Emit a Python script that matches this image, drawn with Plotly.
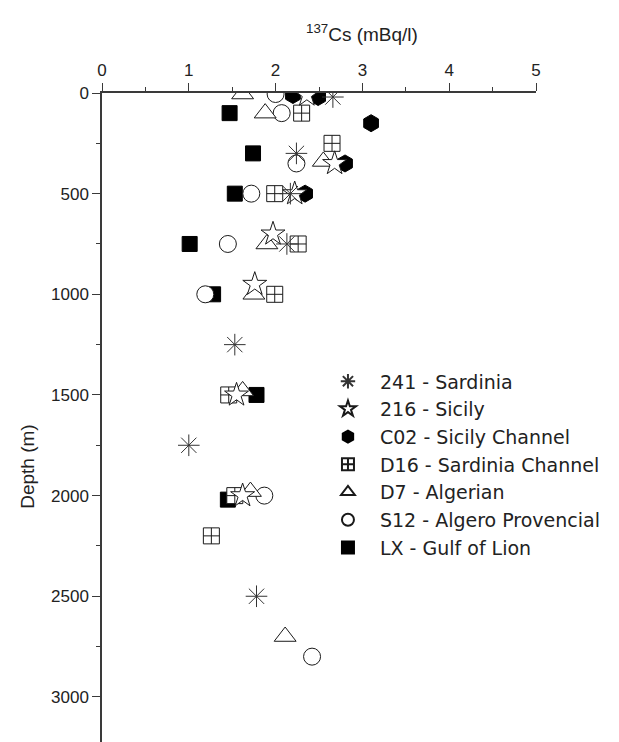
import plotly.graph_objects as go

# ---------------- data ----------------
SERIES_NAMES = [
    "241 - Sardinia",
    "216 - Sicily",
    "C02 - Sicily Channel",
    "D16 - Sardinia Channel",
    "D7 - Algerian",
    "S12 - Algero Provencial",
    "LX - Gulf of Lion",
]

cs_241 = [2.66, 2.24, 2.17, 2.13, 1.53, 1.00, 1.78]
depth_241 = [20, 300, 500, 750, 1250, 1750, 2500]

cs_216 = [2.36, 2.68, 2.22, 1.97, 1.76, 1.55, 1.62]
depth_216 = [10, 350, 500, 700, 950, 1500, 2000]

cs_c02 = [2.20, 2.49, 3.10, 2.80, 2.34]
depth_c02 = [10, 20, 150, 350, 500]

cs_d16 = [2.30, 2.65, 1.99, 2.26, 1.99, 1.46, 1.53, 1.26]
depth_d16 = [100, 250, 500, 750, 1000, 1500, 2000, 2200]

cs_d7 = [1.62, 1.88, 2.55, 1.90, 1.75, 1.62, 1.71, 2.11]
depth_d7 = [5, 100, 340, 750, 1000, 1480, 1980, 2700]

cs_s12 = [2.00, 2.07, 2.24, 1.72, 1.45, 1.19, 1.87, 2.42]
depth_s12 = [5, 100, 350, 500, 750, 1000, 2000, 2800]

cs_lx = [1.47, 1.74, 1.53, 1.01, 1.28, 1.78, 1.45]
depth_lx = [100, 300, 500, 750, 1000, 1500, 2020]

X_TICKS = [0, 1, 2, 3, 4, 5]
Y_TICKS = [0, 500, 1000, 1500, 2000, 2500, 3000]

SERIES_X = [cs_241, cs_216, cs_c02, cs_d16, cs_d7, cs_s12, cs_lx]
SERIES_Y = [depth_241, depth_216, depth_c02, depth_d16, depth_d7, depth_s12, depth_lx]

# ---------------- styles ----------------
INK = "#1a1a1a"
STYLES = [
    dict(symbol="asterisk-open", size=18, color="#333333", line=dict(color="#333333", width=1)),
    dict(symbol="star", size=18, color="white", line=dict(color=INK, width=1)),
    dict(symbol="hexagon", size=17, color="black", line=dict(color="black", width=1)),
    dict(symbol="square-cross", size=16, color="white", line=dict(color=INK, width=1)),
    dict(symbol="triangle-up", size=19, color="white", line=dict(color=INK, width=1)),
    dict(symbol="circle", size=17, color="white", line=dict(color=INK, width=1)),
    dict(symbol="square", size=15, color="black", line=dict(color="black", width=1)),
]

fig = go.Figure()
# draw in reverse order (LX first) so earlier series sit on top
for i in reversed(range(len(SERIES_NAMES))):
    fig.add_trace(go.Scatter(
        x=SERIES_X[i], y=SERIES_Y[i], mode="markers", name=SERIES_NAMES[i],
        marker=STYLES[i], legendrank=i + 1, cliponaxis=True,
    ))

TICK_FONT = dict(family="Liberation Sans, Arial, sans-serif", size=17, color="#222222")
AXIS_COLOR = "#3a3a3a"

fig.update_layout(
    width=619, height=742,
    margin=dict(l=102, r=83, t=93, b=0),
    paper_bgcolor="white", plot_bgcolor="white",
    showlegend=True,
    legend=dict(
        x=0.493, y=0.585, xanchor="left", yanchor="top",
        font=dict(family="DejaVu Sans, sans-serif", size=19, color="#222222"),
        itemsizing="constant", itemwidth=54, bgcolor="rgba(0,0,0,0)", traceorder="normal",
    ),
    xaxis=dict(
        side="top", range=[0, 5], tickvals=X_TICKS, ticktext=[str(v) for v in X_TICKS],
        ticks="outside", ticklen=8, tickwidth=1.3, tickcolor=AXIS_COLOR,
        showline=True, linecolor=AXIS_COLOR, linewidth=1.5,
        showgrid=False, zeroline=False, tickfont=TICK_FONT,
        minor=dict(dtick=0.5, tick0=0, ticks="outside", ticklen=4, tickcolor=AXIS_COLOR, tickwidth=1.2),
    ),
    yaxis=dict(
        range=[3224, 0], tickvals=Y_TICKS, ticktext=[str(v) for v in Y_TICKS],
        ticks="outside", ticklen=8, tickwidth=1.3, tickcolor=AXIS_COLOR,
        showline=True, linecolor=AXIS_COLOR, linewidth=1.5,
        showgrid=False, zeroline=False, tickfont=TICK_FONT,
        minor=dict(dtick=250, tick0=0, ticks="outside", ticklen=4, tickcolor=AXIS_COLOR, tickwidth=1.2),
    ),
    annotations=[
        dict(text="<sup>137</sup>Cs (mBq/l)", xref="paper", yref="paper",
             x=0.599, y=1.0925, xanchor="center", yanchor="middle", showarrow=False,
             font=dict(family="Liberation Sans, Arial, sans-serif", size=19, color="#222222")),
        dict(text="Depth (m)", xref="paper", yref="paper", textangle=-90,
             x=-0.1705, y=0.424, xanchor="center", yanchor="middle", showarrow=False,
             font=dict(family="Liberation Sans, Arial, sans-serif", size=19, color="#222222")),
    ],
)

fig.write_html("out.html", config={"displayModeBar": False},
               post_script="document.body.style.margin='0';")
